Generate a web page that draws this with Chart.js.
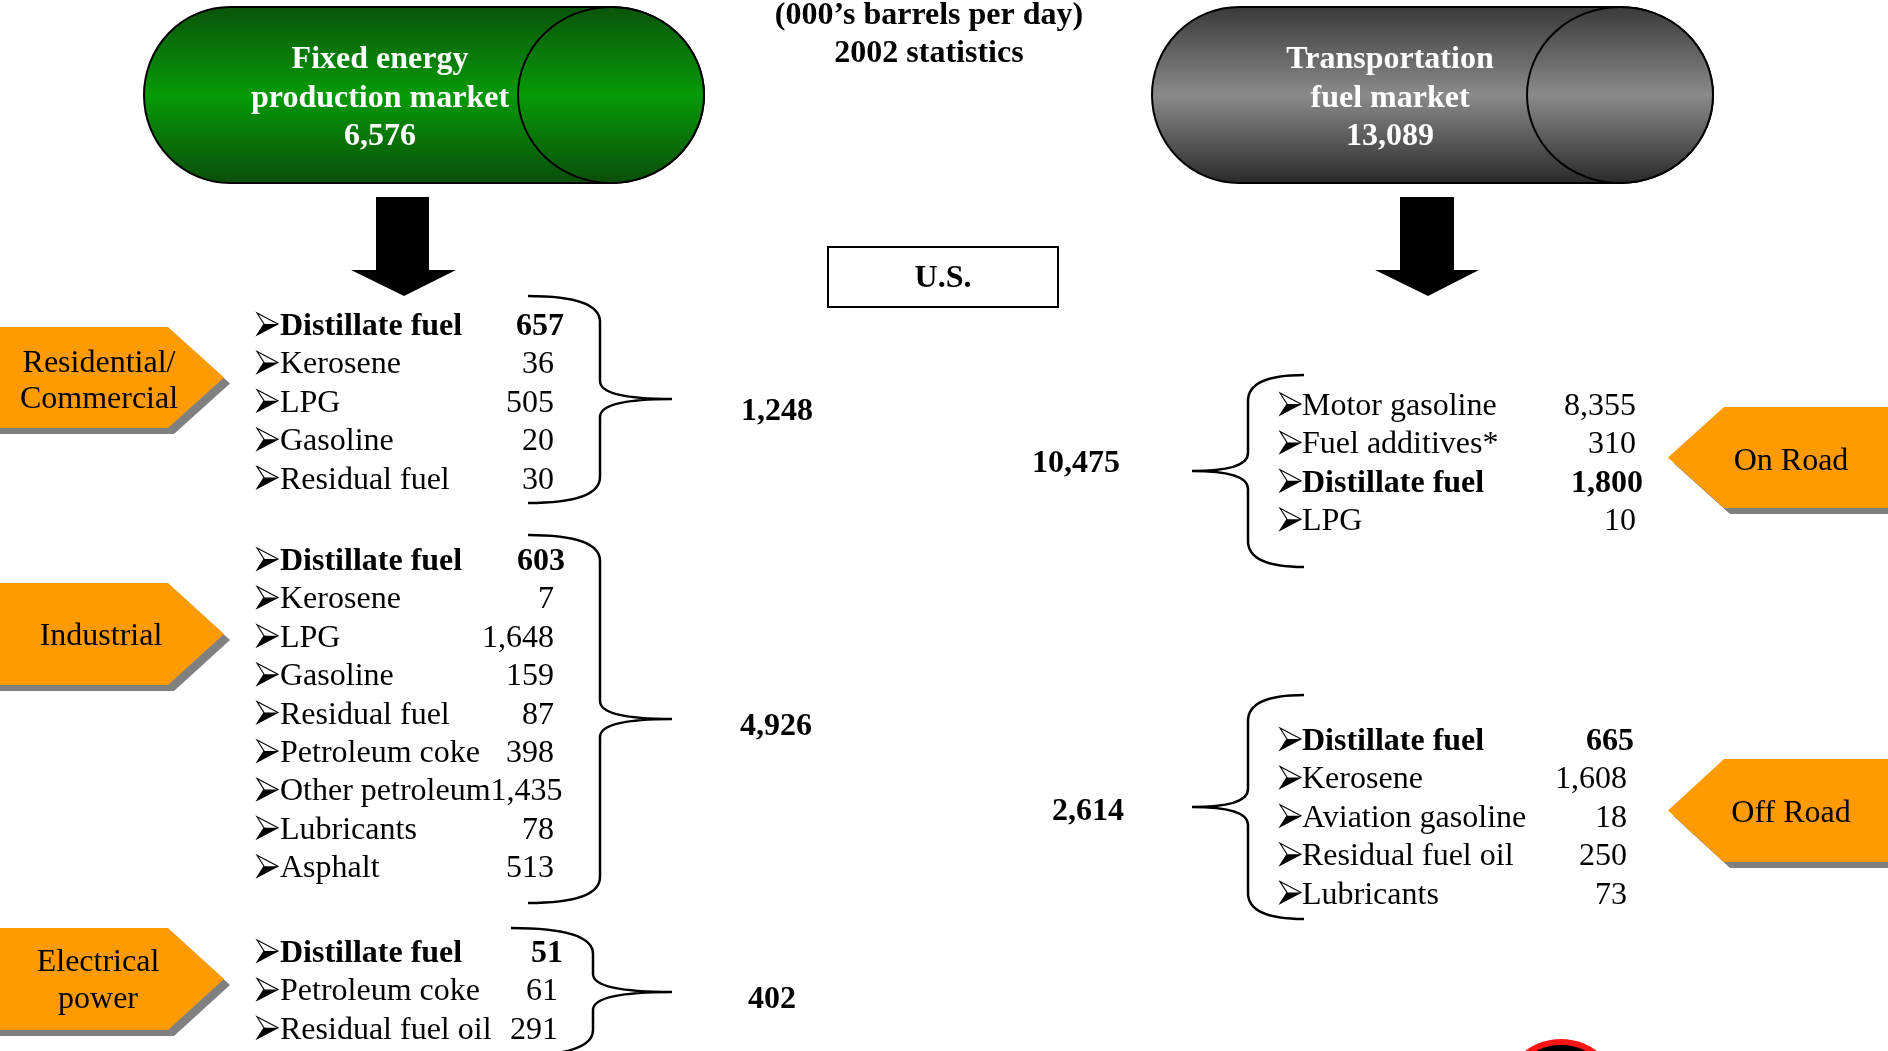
<!DOCTYPE html>
<html>
<head>
<meta charset="utf-8">
<title>U.S. petroleum demand by market, 2002</title>
<script src="https://cdn.jsdelivr.net/npm/chart.js@4.4.1/dist/chart.umd.min.js"></script>
<style>
  html, body { margin: 0; padding: 0; background: #ffffff; }
  #wrap { width: 1888px; height: 1051px; position: relative; }
</style>
</head>
<body>
<div id="wrap"><canvas id="diagram"></canvas></div>
<script>
// Petroleum demand, thousands of barrels per day, 2002
const unitsTitle = "(000\u2019s barrels per day)";
const yearTitle = "2002 statistics";
const regionLabel = "U.S.";

const marketNames = [["Fixed energy", "production market"], ["Transportation", "fuel market"]];
const marketTotals = [6576, 13089];

const sectorNames = [["Residential/", "Commercial"], ["Industrial"], ["Electrical", "power"], ["On Road"], ["Off Road"]];
const sectorTotals = [1248, 4926, 402, 10475, 2614];

const residentialFuels = ["Distillate fuel", "Kerosene", "LPG", "Gasoline", "Residual fuel"];
const residentialValues = [657, 36, 505, 20, 30];
const industrialFuels = ["Distillate fuel", "Kerosene", "LPG", "Gasoline", "Residual fuel", "Petroleum coke", "Other petroleum", "Lubricants", "Asphalt"];
const industrialValues = [603, 7, 1648, 159, 87, 398, 1435, 78, 513];
const electricFuels = ["Distillate fuel", "Petroleum coke", "Residual fuel oil"];
const electricValues = [51, 61, 291];
const onRoadFuels = ["Motor gasoline", "Fuel additives*", "Distillate fuel", "LPG"];
const onRoadValues = [8355, 310, 1800, 10];
const offRoadFuels = ["Distillate fuel", "Kerosene", "Aviation gasoline", "Residual fuel oil", "Lubricants"];
const offRoadValues = [665, 1608, 18, 250, 73];
const highlightFuel = "Distillate fuel";

// ---- page geometry (value space of both axes is the canvas in pixels) ----
const W = 1888, H = 1051;
const SERIF = '"Liberation Serif", "Times New Roman", serif';
const FONT_PX = 32;
const ROW_GAP = 38.4;
const fmt = v => v.toLocaleString('en-US');

const markets = [
  { left: 144, right: 704, top: 7, bottom: 183, rxBack: 86, rxFace: 93, textX: 380, baselines: [68, 107, 145],
    stops: ['#0a540a', '#079a07', '#0a4e0a'] },
  { left: 1152, right: 1713, top: 7, bottom: 183, rxBack: 87, rxFace: 93, textX: 1390, baselines: [68, 107, 145],
    stops: ['#3a3a3a', '#8a8a8a', '#2a2a2a'] }
];

const downArrows = [
  { shaft: [376, 429], top: 197, neck: 270, head: [351, 456], tipX: 404, tipY: 296 },
  { shaft: [1400, 1454], top: 197, neck: 270, head: [1375, 1479], tipX: 1428, tipY: 296 }
];

const sectors = [
  { fuels: residentialFuels, values: residentialValues, side: 'left', firstBaseline: 335,
    bulletX: 257, labelX: 280, valueRight: 554, boldRight: 564,
    brace: { end: 528, spine: 600, tip: 672, top: 296, mid: 399, bot: 503 },
    totalX: 777, totalBaseline: 420,
    tag: { top: 327, bottom: 428, textX: 99, baselines: [372, 408] } },
  { fuels: industrialFuels, values: industrialValues, side: 'left', firstBaseline: 570,
    bulletX: 257, labelX: 280, valueRight: 554, boldRight: 565,
    brace: { end: 528, spine: 600, tip: 672, top: 535, mid: 719, bot: 903 },
    totalX: 776, totalBaseline: 735,
    tag: { top: 583, bottom: 685, textX: 101, baselines: [645] } },
  { fuels: electricFuels, values: electricValues, side: 'left', firstBaseline: 962,
    bulletX: 257, labelX: 280, valueRight: 558, boldRight: 563,
    brace: { end: 511, spine: 593, tip: 672, top: 928, mid: 992, bot: 1056 },
    totalX: 772, totalBaseline: 1008,
    tag: { top: 928, bottom: 1030, textX: 98, baselines: [971, 1008] } },
  { fuels: onRoadFuels, values: onRoadValues, side: 'right', firstBaseline: 415,
    bulletX: 1280, labelX: 1302, valueRight: 1636, boldRight: 1643,
    brace: { end: 1304, spine: 1248, tip: 1192, top: 375, mid: 471, bot: 567 },
    totalX: 1076, totalBaseline: 472,
    tag: { top: 407, bottom: 508, textX: 1791, baselines: [470] } },
  { fuels: offRoadFuels, values: offRoadValues, side: 'right', firstBaseline: 750,
    bulletX: 1280, labelX: 1302, valueRight: 1627, boldRight: 1634,
    brace: { end: 1304, spine: 1248, tip: 1192, top: 695, mid: 807, bot: 919 },
    totalX: 1088, totalBaseline: 820,
    tag: { top: 759, bottom: 862, textX: 1791, baselines: [822] } }
];

const ORANGE = '#fe9a02';
const SHADOW = '#808080';

function font(bold) { return (bold ? 'bold ' : '') + FONT_PX + 'px ' + SERIF; }

const diagramPlugin = {
  id: 'demandDiagram',
  afterDraw(chart) {
    const ctx = chart.ctx;
    const sx = chart.scales.x, sy = chart.scales.y;
    const X = v => sx.getPixelForValue(v);
    const Y = v => sy.getPixelForValue(v);

    ctx.save();

    // headline
    ctx.fillStyle = '#000';
    ctx.font = font(true);
    ctx.textAlign = 'center';
    ctx.textBaseline = 'alphabetic';
    ctx.fillText(unitsTitle, X(929), Y(24));
    ctx.fillText(yearTitle, X(929), Y(62));

    // region box
    ctx.lineWidth = 2;
    ctx.strokeStyle = '#000';
    ctx.strokeRect(X(828), Y(247), X(1058) - X(828), Y(307) - Y(247));
    ctx.fillText(regionLabel, X(943), Y(287));

    // market cylinders
    markets.forEach((m, i) => {
      const top = Y(m.top), bot = Y(m.bottom), cy = (top + bot) / 2, ry = (bot - top) / 2;
      const rxB = X(m.rxBack) - X(0), rxF = X(m.rxFace) - X(0);
      const cxL = X(m.left) + rxB, cxR = X(m.right) - rxF;
      const g = ctx.createLinearGradient(0, top, 0, bot);
      g.addColorStop(0, m.stops[0]);
      g.addColorStop(0.5, m.stops[1]);
      g.addColorStop(1, m.stops[2]);
      ctx.beginPath();
      ctx.moveTo(cxL, top);
      ctx.lineTo(cxR, top);
      ctx.ellipse(cxR, cy, rxF, ry, 0, -Math.PI / 2, Math.PI / 2);
      ctx.lineTo(cxL, bot);
      ctx.ellipse(cxL, cy, rxB, ry, 0, Math.PI / 2, Math.PI * 1.5);
      ctx.closePath();
      ctx.fillStyle = g;
      ctx.fill();
      ctx.lineWidth = 2;
      ctx.strokeStyle = '#000';
      ctx.stroke();
      ctx.beginPath();
      ctx.ellipse(cxR, cy, rxF, ry, 0, 0, Math.PI * 2);
      ctx.fillStyle = g;
      ctx.fill();
      ctx.stroke();

      ctx.fillStyle = '#fff';
      ctx.font = font(true);
      ctx.textAlign = 'center';
      const lines = marketNames[i].concat([fmt(marketTotals[i])]);
      lines.forEach((t, k) => ctx.fillText(t, X(m.textX), Y(m.baselines[k])));
    });

    // block arrows
    ctx.fillStyle = '#000';
    downArrows.forEach(a => {
      ctx.beginPath();
      ctx.moveTo(X(a.shaft[0]), Y(a.top));
      ctx.lineTo(X(a.shaft[1]), Y(a.top));
      ctx.lineTo(X(a.shaft[1]), Y(a.neck));
      ctx.lineTo(X(a.head[1]), Y(a.neck));
      ctx.lineTo(X(a.tipX), Y(a.tipY));
      ctx.lineTo(X(a.head[0]), Y(a.neck));
      ctx.lineTo(X(a.shaft[0]), Y(a.neck));
      ctx.closePath();
      ctx.fill();
    });

    // sectors
    sectors.forEach((s, i) => {
      // tag pentagon with drop shadow
      const t = s.tag;
      const midY = (t.top + t.bottom) / 2;
      const tagPath = (dx, dy) => {
        ctx.beginPath();
        if (s.side === 'left') {
          ctx.moveTo(X(-10 + dx), Y(t.top + dy));
          ctx.lineTo(X(168 + dx), Y(t.top + dy));
          ctx.lineTo(X(224 + dx), Y(midY + dy));
          ctx.lineTo(X(168 + dx), Y(t.bottom + dy));
          ctx.lineTo(X(-10 + dx), Y(t.bottom + dy));
        } else {
          ctx.moveTo(X(W + 10 + dx), Y(t.top + dy));
          ctx.lineTo(X(1724 + dx), Y(t.top + dy));
          ctx.lineTo(X(1668 + dx), Y(midY + dy));
          ctx.lineTo(X(1724 + dx), Y(t.bottom + dy));
          ctx.lineTo(X(W + 10 + dx), Y(t.bottom + dy));
        }
        ctx.closePath();
      };
      tagPath(6, 6);
      ctx.fillStyle = SHADOW;
      ctx.fill();
      tagPath(0, 0);
      ctx.fillStyle = ORANGE;
      ctx.fill();
      ctx.fillStyle = '#000';
      ctx.font = font(false);
      ctx.textAlign = 'center';
      sectorNames[i].forEach((line, k) => ctx.fillText(line, X(t.textX), Y(t.baselines[k])));

      // fuel rows
      s.fuels.forEach((name, r) => {
        const bl = s.firstBaseline + r * ROW_GAP;
        const bold = name === highlightFuel;
        drawBullet(ctx, X(s.bulletX), Y(bl - 11));
        ctx.fillStyle = '#000';
        ctx.font = font(bold);
        ctx.textAlign = 'left';
        ctx.fillText(name, X(s.labelX), Y(bl));
        const labelEnd = X(s.labelX) + ctx.measureText(name).width;
        const txt = fmt(s.values[r]);
        const vw = ctx.measureText(txt).width;
        let right = X(bold ? s.boldRight : s.valueRight);
        if (right - vw < labelEnd) right = labelEnd + vw;
        ctx.textAlign = 'right';
        ctx.fillText(txt, right, Y(bl));
      });

      // curly brace
      const b = s.brace;
      const rEnd = 26, rMid = 18;
      ctx.beginPath();
      ctx.moveTo(X(b.end), Y(b.top));
      ctx.quadraticCurveTo(X(b.spine), Y(b.top), X(b.spine), Y(b.top + rEnd));
      ctx.lineTo(X(b.spine), Y(b.mid - rMid));
      ctx.quadraticCurveTo(X(b.spine), Y(b.mid), X(b.tip), Y(b.mid));
      ctx.quadraticCurveTo(X(b.spine), Y(b.mid), X(b.spine), Y(b.mid + rMid));
      ctx.lineTo(X(b.spine), Y(b.bot - rEnd));
      ctx.quadraticCurveTo(X(b.spine), Y(b.bot), X(b.end), Y(b.bot));
      ctx.lineWidth = 2.5;
      ctx.strokeStyle = '#000';
      ctx.stroke();

      // sector total
      ctx.fillStyle = '#000';
      ctx.font = font(true);
      ctx.textAlign = 'center';
      ctx.fillText(fmt(sectorTotals[i]), X(s.totalX), Y(s.totalBaseline));
    });

    // badge rising from the lower edge
    const bx = X(1561), by = Y(1099);
    ctx.beginPath();
    ctx.arc(bx, by, 60, 0, Math.PI * 2);
    ctx.fillStyle = '#ff1414';
    ctx.fill();
    ctx.beginPath();
    ctx.arc(bx, by, 54, 0, Math.PI * 2);
    ctx.fillStyle = '#000';
    ctx.fill();
    ctx.beginPath();
    ctx.arc(bx, by, 48, 0, Math.PI * 2);
    ctx.fillStyle = '#ff1414';
    ctx.fill();

    ctx.restore();
  }
};

// arrowhead bullet: outlined upper half, solid lower half
function drawBullet(ctx, x, cy) {
  const w = 21, h = 11, notch = 7;
  ctx.save();
  ctx.beginPath();
  ctx.moveTo(x, cy - h);
  ctx.lineTo(x + w, cy);
  ctx.lineTo(x, cy + h);
  ctx.lineTo(x + notch, cy);
  ctx.closePath();
  ctx.fillStyle = '#fff';
  ctx.fill();
  ctx.beginPath();
  ctx.moveTo(x + notch, cy);
  ctx.lineTo(x + w, cy);
  ctx.lineTo(x, cy + h);
  ctx.closePath();
  ctx.fillStyle = '#000';
  ctx.fill();
  ctx.beginPath();
  ctx.moveTo(x, cy - h);
  ctx.lineTo(x + w, cy);
  ctx.lineTo(x, cy + h);
  ctx.lineTo(x + notch, cy);
  ctx.closePath();
  ctx.lineWidth = 1.1;
  ctx.strokeStyle = '#000';
  ctx.lineJoin = 'miter';
  ctx.stroke();
  ctx.restore();
}

function build() {
  new Chart(document.getElementById('diagram'), {
    type: 'scatter',
    data: { datasets: [] },
    options: {
      responsive: true,
      maintainAspectRatio: false,
      animation: false,
      events: [],
      layout: { padding: 0 },
      plugins: { legend: { display: false }, tooltip: { enabled: false } },
      scales: {
        x: { type: 'linear', min: 0, max: W, display: false },
        y: { type: 'linear', min: 0, max: H, reverse: true, display: false }
      }
    },
    plugins: [diagramPlugin]
  });
}

Promise.all([
  document.fonts.load('32px "Liberation Serif"'),
  document.fonts.load('bold 32px "Liberation Serif"')
]).then(build, build);
</script>
</body>
</html>
